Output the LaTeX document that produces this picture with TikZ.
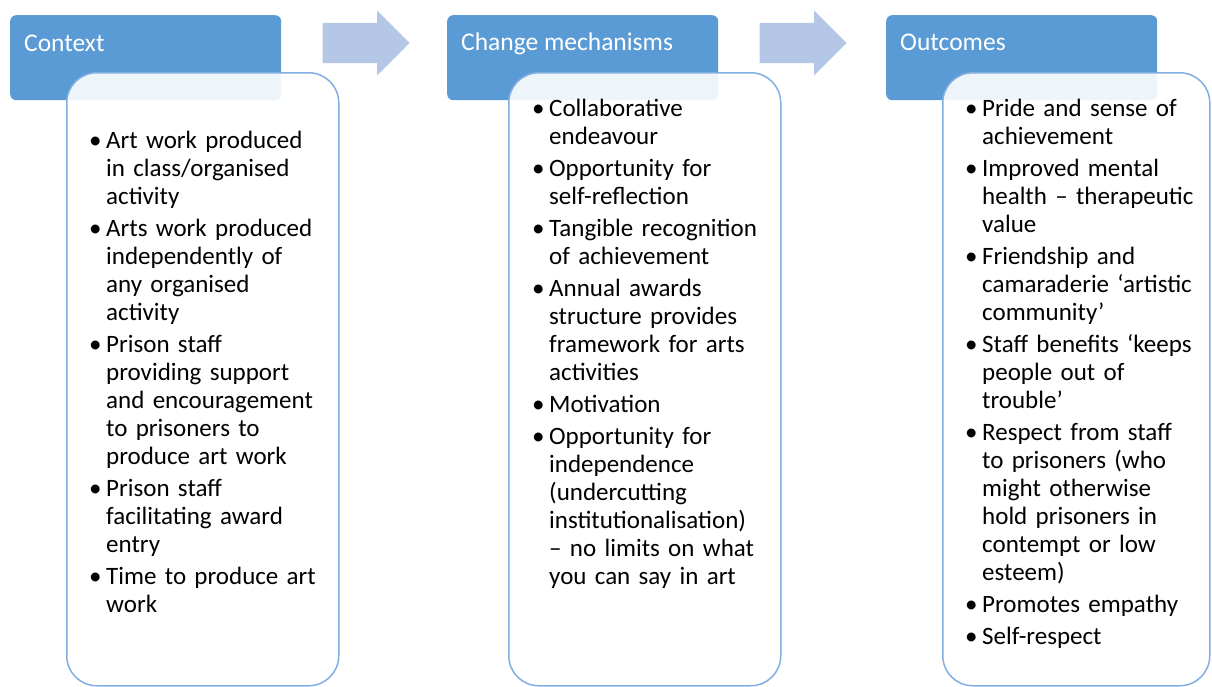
\documentclass[tikz,border=0pt]{standalone}
\usepackage{fontspec}
\setmainfont{Carlito}
\usetikzlibrary{shapes.arrows}
\definecolor{hdrblue}{HTML}{5B9BD5}
\definecolor{arrowblue}{HTML}{B4C7E7}
\definecolor{edgeblue}{HTML}{82AEE2}
% one bullet point, hanging indent for the wrapped lines
\newcommand{\bul}[1]{\par\hangindent=17pt\hangafter=1\noindent\makebox[17pt][l]{•}\strut#1\par}
\tikzset{% styles for the three stages
   hdr/.style={rectangle, rounded corners=6pt, fill=hdrblue, minimum width=271pt,
               minimum height=85pt, anchor=north west},
   hdrtext/.style={anchor=base west, inner sep=0pt, text=white,
                   font=\fontsize{25.5}{28}\selectfont},
   panel/.style={rectangle, rounded corners=30pt, draw=edgeblue, line width=1.5pt,
                 fill=white, fill opacity=0.9, minimum height=613pt, anchor=north west},
   itemlist/.style={anchor=north west, inner sep=0pt, text width=240pt, align=left,
                    font=\fontsize{25}{28}\selectfont,
                    execute at begin node={\setlength{\parskip}{4pt}}},
   % and the block arrows between the stages
   flowarrow/.style={single arrow, fill=arrowblue, inner xsep=0pt, inner ysep=20pt,
                     single arrow head extend=12.5pt, single arrow tip angle=90,
                     minimum height=87pt, anchor=tip}
}

\begin{document}
\begin{tikzpicture}[x=1pt,y=-1pt]
   \useasboundingbox (0,0) rectangle (1212,686);
   % headers
   \node (hctx) at (10,15) [hdr] {};
   \node (hmech) at (447,15) [hdr] {};
   \node (hout) at (886,15) [hdr] {};
   \node (tctx) at (24,51) [hdrtext] {Context};
   \node (tmech) at (461,50) [hdrtext] {Change mechanisms};
   \node (tout) at (900,50) [hdrtext] {Outcomes};
   \node (arr1) at (410,43) [flowarrow] {};
   \node (arr2) at (847,43) [flowarrow] {};
   % panels with the lists
   \node (pctx) at (66,72) [panel, minimum width=272pt] {};
   \node (pmech) at (508,72) [panel, minimum width=272pt] {};
   \node (pout) at (942,72) [panel, minimum width=267pt] {};
   \node (lctx) at (89,116.4) [itemlist] {%
      \bul{Art work produced\newline in class/organised\newline activity}
      \bul{Arts work produced\newline independently of\newline any organised\newline activity}
      \bul{Prison staff\newline providing support\newline and encouragement\newline to prisoners to\newline produce art work}
      \bul{Prison staff\newline facilitating award\newline entry}
      \bul{Time to produce art\newline work}};
   \node (lmech) at (532,84.4) [itemlist] {%
      \bul{Collaborative\newline endeavour}
      \bul{Opportunity for\newline self-reflection}
      \bul{Tangible recognition\newline of achievement}
      \bul{Annual awards\newline structure provides\newline framework for arts\newline activities}
      \bul{Motivation}
      \bul{Opportunity for\newline independence\newline (undercutting\newline institutionalisation)\newline – no limits on what\newline you can say in art}};
   \node (lout) at (965,84.4) [itemlist] {%
      \bul{Pride and sense of\newline achievement}
      \bul{Improved mental\newline health – therapeutic\newline value}
      \bul{Friendship and\newline camaraderie ‘artistic\newline community’}
      \bul{Staff benefits ‘keeps\newline people out of\newline trouble’}
      \bul{Respect from staff\newline to prisoners (who\newline might otherwise\newline hold prisoners in\newline contempt or low\newline esteem)}
      \bul{Promotes empathy}
      \bul{Self-respect}};
\end{tikzpicture}
\end{document}
